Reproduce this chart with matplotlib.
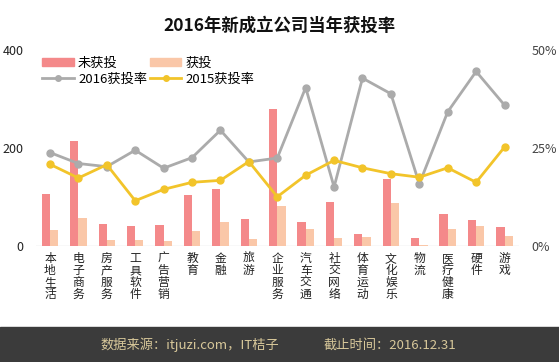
import numpy as np
import matplotlib
matplotlib.use("Agg")
import matplotlib.pyplot as plt
from matplotlib.lines import Line2D
from matplotlib.patches import Patch

plt.rcParams['font.family'] = ['Noto Sans CJK SC', 'DejaVu Sans']

# データ
categories = ['本地生活', '电子商务', '房产服务', '工具软件', '广告营销', '教育', '金融', '旅游',
              '企业服务', '汽车交通', '社交网络', '体育运动', '文化娱乐', '物流', '医疗健康', '硬件', '游戏']
not_funded = [106, 215, 46, 42, 44, 105, 116, 56, 280, 50, 90, 24, 137, 17, 65, 53, 39]
funded = [34, 58, 12, 13, 10, 31, 49, 15, 83, 35, 17, 18, 88, 3, 35, 41, 20]
rate_2016 = [23.9, 21.1, 20.3, 24.5, 19.9, 22.6, 29.6, 21.5, 22.5, 40.5, 15.1, 42.9, 38.9, 15.9, 34.3, 44.6, 36.0]
rate_2015 = [20.9, 17.4, 20.8, 11.6, 14.5, 16.3, 16.8, 21.6, 12.6, 18.1, 21.9, 20.0, 18.5, 17.6, 20.0, 16.3, 25.3]
left_ticks = [0, 200, 400]
right_ticks = [0, 25, 50]

red = '#F4898A'
peach = '#FAC7A8'
gray = '#ABABAB'
yellow = '#F2C42A'

fig = plt.figure(figsize=(5.59, 3.62), dpi=100)
ax = fig.add_axes([0.064, 0.320, 0.864, 0.541])
ax2 = ax.twinx()

x = np.arange(len(categories))
w = 0.29
ax.bar(x - w / 2, not_funded, width=w, color=red, zorder=2)
ax.bar(x + w / 2, funded, width=w, color=peach, zorder=2)

ax2.plot(x, rate_2016, '-o', color=gray, lw=2, ms=5, zorder=3)
ax2.plot(x, rate_2015, '-o', color=yellow, lw=2, ms=5, zorder=4)

ax.set_xlim(-0.5, len(categories) - 0.5)
ax.set_ylim(0, 400)
ax2.set_ylim(0, 50)
ax.set_yticks(left_ticks)
ax2.set_yticks(right_ticks)
ax2.set_yticklabels([f'{t}%' for t in right_ticks])
ax.tick_params(axis='y', length=0, labelsize=9, pad=9, colors='#222222')
ax2.tick_params(axis='y', length=0, labelsize=9, pad=9, colors='#444444')

ax.set_xticks(x)
ax.set_xticklabels(['\n'.join(c) for c in categories], fontsize=8.5, linespacing=0.92,
                   va='top', color='#222222')
ax.tick_params(axis='x', length=0, pad=4)

for a in (ax, ax2):
    for s in a.spines.values():
        s.set_visible(False)
ax.axhline(0, color='#dddddd', lw=1, zorder=1)

# 凡例（2列、行順に並べる）
handles = [Patch(color=red),
           Line2D([], [], color=gray, lw=2, marker='o', ms=4),
           Patch(color=peach),
           Line2D([], [], color=yellow, lw=2, marker='o', ms=4)]
labels = ['未获投', '2016获投率', '获投', '2015获投率']
ax2.legend(handles, labels, ncol=2, loc='upper left', bbox_to_anchor=(0.0, 1.0),
           frameon=False, fontsize=9.5, handlelength=2.4, handleheight=0.5,
           columnspacing=0.2, labelspacing=0.2, borderaxespad=0.1, handletextpad=0.3)

fig.text(0.5, 0.93, '2016年新成立公司当年获投率', ha='center', va='center',
         fontsize=12.5, fontweight='bold', color='#111111')

# フッター
fig.patches.append(plt.Rectangle((0, 0), 1, 0.097, transform=fig.transFigure,
                                 color='#3b3b3b', zorder=0))
fig.text(0.340, 0.047, '数据来源：itjuzi.com，IT桔子', ha='center', va='center',
         fontsize=9.5, color='#D8C89A')
fig.text(0.698, 0.047, '截止时间：2016.12.31', ha='center', va='center',
         fontsize=9.5, color='#D8C89A')

fig.savefig('out.png', dpi=100)
